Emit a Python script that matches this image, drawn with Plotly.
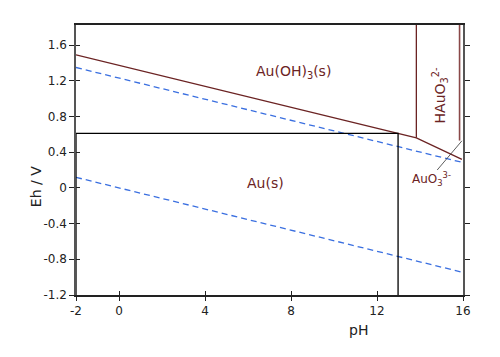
import plotly.graph_objects as go

BROWN = "#6b2323"
BLUE = "#3a6fe0"

# water stability lines (pH, Eh)
water_ph = [-2, 16]
water_upper = [1.348, 0.283]
water_lower = [0.118, -0.947]

# Au(OH)3 / Au boundary and beyond
boundary_ph = [-2, 12.98, 13.83, 15.95]
boundary_eh = [1.49, 0.61, 0.56, 0.32]

# HAuO3(2-) vertical boundaries
v1_ph = [13.83, 13.83]
v1_eh = [0.56, 1.824]
v2_ph = [15.84, 15.84]
v2_eh = [0.53, 1.824]

# Au(s) box
box_ph = [-2, -2, 12.98, 12.98]
box_eh = [-1.2, 0.61, 0.61, -1.2]

# leader line for AuO3(3-)
leader_ph = [14.8, 15.95]
leader_eh = [0.20, 0.527]

x_ticks = [-2, 0, 4, 8, 12, 16]
y_ticks = [1.6, 1.2, 0.8, 0.4, 0, -0.4, -0.8, -1.2]
y_labels = ["1.6", "1.2", "0.8", "0.4", "0", "-0.4", "-0.8", "-1.2"]

fig = go.Figure()
for yv in (water_upper, water_lower):
    fig.add_trace(go.Scatter(x=water_ph, y=yv, mode="lines",
                             line=dict(color=BLUE, width=1.3, dash="6px,4px"),
                             hoverinfo="skip", showlegend=False))
fig.add_trace(go.Scatter(x=boundary_ph, y=boundary_eh, mode="lines",
                         line=dict(color=BROWN, width=1.3), showlegend=False))
fig.add_trace(go.Scatter(x=v1_ph, y=v1_eh, mode="lines",
                         line=dict(color=BROWN, width=1.3), showlegend=False))
fig.add_trace(go.Scatter(x=v2_ph, y=v2_eh, mode="lines",
                         line=dict(color="#8a4848", width=1.6), showlegend=False))
fig.add_trace(go.Scatter(x=box_ph, y=box_eh, mode="lines", cliponaxis=False,
                         line=dict(color="black", width=1.3), showlegend=False))
fig.add_trace(go.Scatter(x=leader_ph, y=leader_eh, mode="lines",
                         line=dict(color="#333333", width=0.8), showlegend=False))
# invisible trace to activate overlay axes (inner half of crossing ticks)
fig.add_trace(go.Scatter(x=[-2, 16], y=[-1.2, 1.824], xaxis="x2", yaxis="y2",
                         mode="markers", marker=dict(opacity=0), hoverinfo="skip",
                         showlegend=False))

font_family = "DejaVu Sans"
annos = [
    dict(x=8.1, y=1.30, text="Au(OH)<sub>3</sub>(s)", font=dict(size=14, color=BROWN)),
    dict(x=6.8, y=0.05, text="Au(s)", font=dict(size=14, color=BROWN)),
    dict(x=14.95, y=1.04, text="HAuO<sub>3</sub><sup>2-</sup>", textangle=-90,
         font=dict(size=14, color=BROWN)),
    dict(x=14.55, y=0.10, text="AuO<sub>3</sub><sup>3-</sup>", font=dict(size=12, color=BROWN)),
]
for a in annos:
    a.update(xref="x", yref="y", showarrow=False)
    fig.add_annotation(**a)
fig.add_annotation(x=0.729, y=-0.13, xref="paper", yref="paper", text="pH",
                   xanchor="center", yanchor="middle",
                   showarrow=False, font=dict(size=14, color="#222"))
fig.add_annotation(x=-0.103, y=0.40, xref="paper", yref="paper", text="Eh / V",
                   textangle=-90, xanchor="center", yanchor="middle",
                   showarrow=False, font=dict(size=14, color="#222"))

fig.update_layout(
    width=500, height=357,
    margin=dict(l=76, r=37, t=25, b=62),
    paper_bgcolor="white", plot_bgcolor="white",
    font=dict(family=font_family, size=12, color="#222"),
    xaxis=dict(range=[-2, 16], tickvals=x_ticks, ticktext=[str(v) for v in x_ticks],
               showgrid=False, zeroline=False, showline=True, linecolor="#222",
               linewidth=1.5, mirror=True, ticks="outside", ticklen=4, tickcolor="#222",
               tickfont=dict(size=12, color="#222")),
    yaxis=dict(range=[-1.2, 1.824], tickvals=y_ticks, ticktext=y_labels,
               showgrid=False, zeroline=False, showline=True, linecolor="#555",
               linewidth=1.5, mirror="ticks", ticks="outside", ticklen=5, tickcolor="#222",
               tickfont=dict(size=12, color="#222")),
    xaxis2=dict(overlaying="x", range=[-2, 16], tickvals=x_ticks,
                showticklabels=False, showgrid=False, zeroline=False, ticks="inside",
                ticklen=4, tickcolor="#222", side="bottom"),
    yaxis2=dict(overlaying="y", range=[-1.2, 1.824], tickvals=y_ticks,
                showticklabels=False, showgrid=False, zeroline=False, ticks="inside",
                ticklen=4, tickcolor="#222", side="left"),
)

fig.write_html("out.html")
